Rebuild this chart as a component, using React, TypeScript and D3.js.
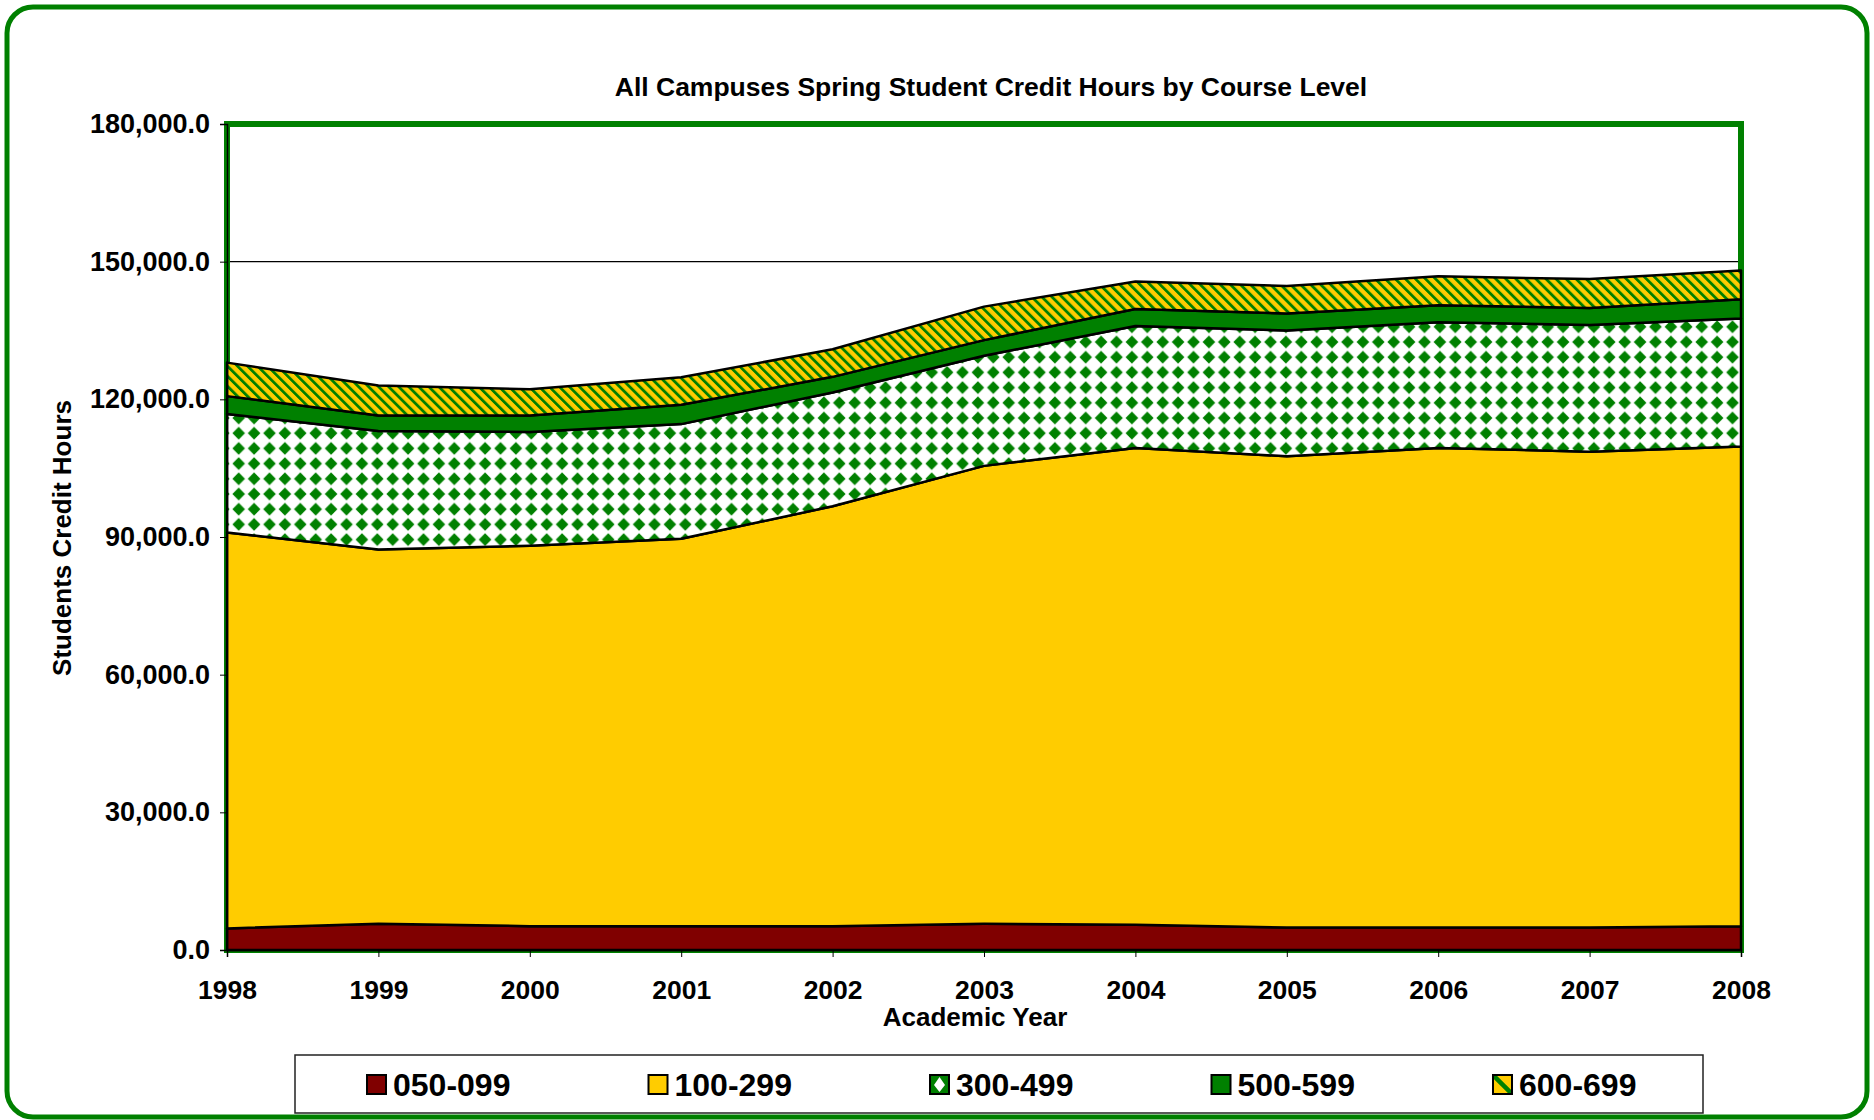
import * as d3 from "d3";
import * as React from "react";

// spring student credit hours
const years = ["1998", "1999", "2000", "2001", "2002", "2003", "2004", "2005", "2006", "2007", "2008"];
const level050 = [4700, 5700, 5200, 5200, 5200, 5700, 5500, 4900, 4900, 4900, 5200];
const level100 = [86300, 81600, 82900, 84400, 91500, 99800, 103900, 102700, 104500, 103700, 104500];
const level300 = [25800, 25800, 24800, 25000, 24800, 24000, 26600, 27400, 27400, 27600, 27900];
const level500 = [3900, 3400, 3600, 4200, 3400, 3400, 3700, 3700, 3700, 3700, 4200];
const level600 = [7300, 6500, 5700, 6000, 6000, 7300, 6000, 6000, 6300, 6300, 6300];

const seriesNames = ["050-099", "100-299", "300-499", "500-599", "600-699"];
const yTicks = [0, 30000, 60000, 90000, 120000, 150000, 180000];

const W = 1874;
const H = 1120;
const plot = { left: 227, right: 1741, top: 124, bottom: 950 };
const GREEN = "#008000";
const font = "'Liberation Sans', Arial, sans-serif";

export default function App() {
  const ref = React.useRef<SVGSVGElement>(null);

  React.useEffect(() => {
    const svg = d3.select(ref.current);
    svg.selectAll("*").remove();

    const defs = svg.append("defs");
    const dia = defs.append("pattern")
      .attr("id", "diamonds")
      .attr("patternUnits", "userSpaceOnUse")
      .attr("width", 15.4).attr("height", 15.2);
    dia.append("rect").attr("width", 15.4).attr("height", 15.2).attr("fill", "#fff");
    dia.append("path").attr("d", "M7.7,1.3L14,7.6L7.7,13.9L1.4,7.6Z").attr("fill", GREEN);

    const hatch = defs.append("pattern")
      .attr("id", "hatch")
      .attr("patternUnits", "userSpaceOnUse")
      .attr("width", 7.1).attr("height", 7.1)
      .attr("patternTransform", "rotate(-45)");
    hatch.append("rect").attr("width", 7.1).attr("height", 7.1).attr("fill", "#FFCC00");
    hatch.append("rect").attr("width", 2.8).attr("height", 7.1).attr("fill", GREEN);

    const swDia = defs.append("pattern")
      .attr("id", "swDiamond")
      .attr("patternUnits", "userSpaceOnUse")
      .attr("width", 19).attr("height", 19);
    swDia.append("rect").attr("width", 19).attr("height", 19).attr("fill", GREEN);
    swDia.append("path").attr("d", "M9.5,2L15,10L9.5,17L4,10Z").attr("fill", "#fff");

    const swHatch = defs.append("pattern")
      .attr("id", "swHatch")
      .attr("patternUnits", "userSpaceOnUse")
      .attr("width", 19).attr("height", 19);
    swHatch.append("rect").attr("width", 19).attr("height", 19).attr("fill", "#FFCC00");
    swHatch.append("path").attr("d", "M0,0L19,19").attr("stroke", GREEN).attr("stroke-width", 4.5);

    const fills = ["#800000", "#FFCC00", "url(#diamonds)", GREEN, "url(#hatch)"];
    const swatchFills = ["#800000", "#FFCC00", "url(#swDiamond)", GREEN, "url(#swHatch)"];

    // outer frame
    svg.append("rect")
      .attr("x", 7).attr("y", 7)
      .attr("width", 1860).attr("height", 1110)
      .attr("rx", 26)
      .attr("fill", "#fff")
      .attr("stroke", GREEN).attr("stroke-width", 5);

    const x = d3.scalePoint<string>().domain(years).range([plot.left, plot.right]);
    const y = d3.scaleLinear().domain([0, 180000]).range([plot.bottom, plot.top]);

    // gridlines
    svg.append("g").selectAll("line").data(yTicks).join("line")
      .attr("x1", plot.left).attr("x2", plot.right)
      .attr("y1", (d) => y(d)).attr("y2", (d) => y(d))
      .attr("stroke", "#000").attr("stroke-width", 1.2);

    svg.append("rect")
      .attr("x", plot.left).attr("y", plot.top)
      .attr("width", plot.right - plot.left).attr("height", plot.bottom - plot.top)
      .attr("fill", "none").attr("stroke", GREEN).attr("stroke-width", 6);

    const rows = years.map((yr, i) => ({
      year: yr,
      "050-099": level050[i],
      "100-299": level100[i],
      "300-499": level300[i],
      "500-599": level500[i],
      "600-699": level600[i],
    }));
    const stacked = d3.stack<any>().keys(seriesNames)(rows);
    const area = d3.area<any>()
      .x((d) => x(d.data.year)!)
      .y0((d) => y(d[0]))
      .y1((d) => y(d[1]));

    svg.append("g").selectAll("path").data(stacked).join("path")
      .attr("d", (d) => area(d as any))
      .attr("fill", (_d, i) => fills[i])
      .attr("stroke", "#000").attr("stroke-width", 2.5)
      .attr("stroke-linejoin", "round");

    // axes
    const yAxis = svg.append("g").attr("transform", `translate(${plot.left},0)`)
      .call(d3.axisLeft(y).tickValues(yTicks).tickSize(7).tickPadding(10).tickFormat(d3.format(",.1f") as any));
    yAxis.select(".domain").attr("stroke", "#000").attr("stroke-width", 1.5);
    yAxis.selectAll("text")
      .attr("font-family", font).attr("font-weight", "bold").attr("font-size", 27).attr("fill", "#000");

    const xAxis = svg.append("g").attr("transform", `translate(0,${plot.bottom})`)
      .call(d3.axisBottom(x).tickSize(7).tickPadding(23));
    xAxis.select(".domain").attr("stroke", "#000").attr("stroke-width", 1.5);
    xAxis.selectAll("text")
      .attr("font-family", font).attr("font-weight", "bold").attr("font-size", 26.5).attr("fill", "#000");

    // titles
    svg.append("text")
      .attr("x", 991).attr("y", 96)
      .attr("text-anchor", "middle")
      .attr("font-family", font).attr("font-weight", "bold").attr("font-size", 26.5)
      .text("All Campuses Spring Student Credit Hours by Course Level");
    svg.append("text")
      .attr("x", 975).attr("y", 1026)
      .attr("text-anchor", "middle")
      .attr("font-family", font).attr("font-weight", "bold").attr("font-size", 26)
      .text("Academic Year");
    svg.append("text")
      .attr("transform", "translate(71,538) rotate(-90)")
      .attr("text-anchor", "middle")
      .attr("font-family", font).attr("font-weight", "bold").attr("font-size", 26)
      .text("Students Credit Hours");

    // legend
    const lg = svg.append("g");
    lg.append("rect")
      .attr("x", 295).attr("y", 1055).attr("width", 1408).attr("height", 58)
      .attr("fill", "#fff").attr("stroke", "#222").attr("stroke-width", 1.5);
    const item = lg.selectAll("g.item").data(seriesNames).join("g")
      .attr("class", "item")
      .attr("transform", (_d, i) => `translate(${367 + i * 281.5},1075)`);
    item.append("rect")
      .attr("width", 19).attr("height", 19)
      .attr("fill", (_d, i) => swatchFills[i])
      .attr("stroke", "#000").attr("stroke-width", 2);
    item.append("text")
      .attr("x", 26).attr("y", 21)
      .attr("font-family", font).attr("font-weight", "bold").attr("font-size", 32)
      .text((d) => d);
  }, []);

  return (
    <div style={{ position: "absolute", left: 0, top: 0 }}>
      <svg ref={ref} width={W} height={H} style={{ display: "block" }} />
    </div>
  );
}
